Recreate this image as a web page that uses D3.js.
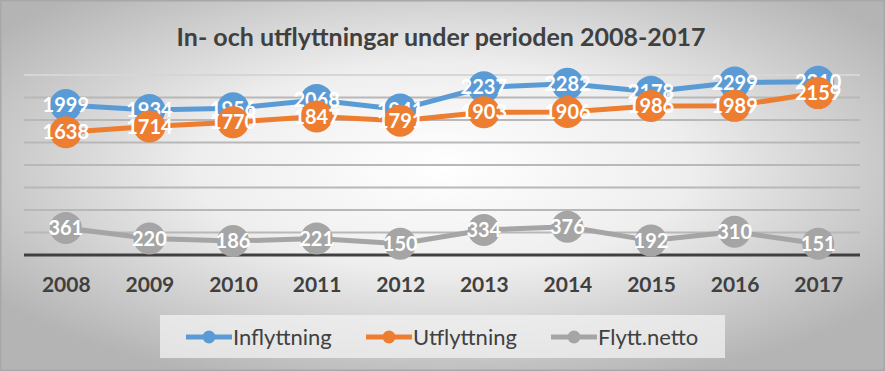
<!DOCTYPE html>
<html><head><meta charset="utf-8">
<script src="https://cdn.jsdelivr.net/npm/d3@7"></script>
<style>body{margin:0;background:#fff}svg{display:block}</style>
</head><body><svg id="c" width="885" height="371"></svg>
<script>
const years = ["2008","2009","2010","2011","2012","2013","2014","2015","2016","2017"];
const inflyttning = [1999,1934,1956,2068,1941,2237,2282,2178,2299,2310];
const utflyttning = [1638,1714,1770,1847,1791,1903,1906,1986,1989,2159];
const flyttNetto  = [361,220,186,221,150,334,376,192,310,151];
const seriesNames = ["Inflyttning","Utflyttning","Flytt.netto"];
const seriesColors = ["#5B9BD5","#ED7D31","#A5A5A5"];
const yTicks = [0,300,600,900,1200,1500,1800,2100,2400];
const title = "In- och utflyttningar under perioden 2008-2017";

const W = 885, H = 371;
const svg = d3.select("#c");
const defs = svg.append("defs");
const rg = defs.append("radialGradient").attr("id","bg")
  .attr("cx","50%").attr("cy","45%").attr("r","62%");
rg.append("stop").attr("offset","0%").attr("stop-color","#ffffff");
rg.append("stop").attr("offset","45%").attr("stop-color","#eeeeee");
rg.append("stop").attr("offset","100%").attr("stop-color","#b4b4b4");
svg.append("rect").attr("width",W).attr("height",H).attr("fill","url(#bg)");
svg.append("rect").attr("x",0.75).attr("y",0.75).attr("width",W-1.5).attr("height",H-1.5)
  .attr("fill","none").attr("stroke","#a8a8a8").attr("stroke-width",1.5);

const plotL = 24, plotR = 860, plotT = 75, plotB = 255;
const x = d3.scalePoint().domain(years).range([plotL, plotR]).padding(0.5);
const y = d3.scaleLinear().domain([0,2400]).range([plotB, plotT]);

const font = "Lato, 'Open Sans', sans-serif";

// title
const t = svg.append("text").text(title).attr("x",441).attr("y",46)
  .attr("text-anchor","middle").attr("font-family",font).attr("font-weight","bold")
  .attr("font-size",22).attr("fill","#404040");
{ const w = t.node().getComputedTextLength(); t.attr("font-size", 22*529/w); }

// gridlines
svg.append("g").selectAll("line").data(yTicks.filter(d=>d>0)).join("line")
  .attr("x1",plotL).attr("x2",plotR).attr("y1",d=>y(d)).attr("y2",d=>y(d))
  .attr("stroke",d=>d===2400?"#d6d6d6":"#b8b8b8").attr("stroke-width",1.8);

// x axis
const xa = svg.append("g").attr("transform",`translate(0,${plotB})`)
  .call(d3.axisBottom(x).tickSize(0).tickPadding(0));
xa.select(".domain").attr("d",`M${plotL},0H${plotR}`).attr("stroke","#404040").attr("stroke-width",3);
xa.selectAll("text").attr("font-family",font).attr("font-weight","bold").attr("font-size",21)
  .attr("fill","#404040").attr("dy",null).attr("y",37);

const data = [inflyttning, utflyttning, flyttNetto];
const line = d3.line().x((d,i)=>x(years[i])).y(d=>y(d));
data.forEach((vals,si)=>{
  const g = svg.append("g");
  g.append("path").datum(vals).attr("d",line).attr("fill","none")
    .attr("stroke",seriesColors[si]).attr("stroke-width",5).attr("stroke-linejoin","round");
  g.selectAll("circle").data(vals).join("circle")
    .attr("cx",(d,i)=>x(years[i])).attr("cy",d=>y(d)).attr("r",16)
    .attr("fill",seriesColors[si]);
  g.selectAll("text").data(vals).join("text")
    .attr("x",(d,i)=>x(years[i])).attr("y",d=>y(d)).attr("dy","0.36em")
    .attr("text-anchor","middle").attr("font-family",font).attr("font-weight","bold")
    .attr("font-size",20).attr("fill","#ffffff").text(d=>d);
});

// legend
svg.append("rect").attr("x",160).attr("y",315).attr("width",565).attr("height",43)
  .attr("fill","#f2f2f2").attr("opacity",0.75);
const legX = [186, 366, 551];
const lg = svg.append("g").selectAll("g").data(seriesNames).join("g")
  .attr("transform",(d,i)=>`translate(${legX[i]},337)`);
lg.append("line").attr("x1",0).attr("x2",46).attr("stroke",(d,i)=>seriesColors[i]).attr("stroke-width",5);
lg.append("circle").attr("cx",23).attr("r",6.5).attr("fill",(d,i)=>seriesColors[i]);
lg.append("text").attr("x",47).attr("dy","0.35em").attr("font-family",font)
  .attr("font-size",22).attr("fill","#404040").text(d=>d);
</script></body></html>
